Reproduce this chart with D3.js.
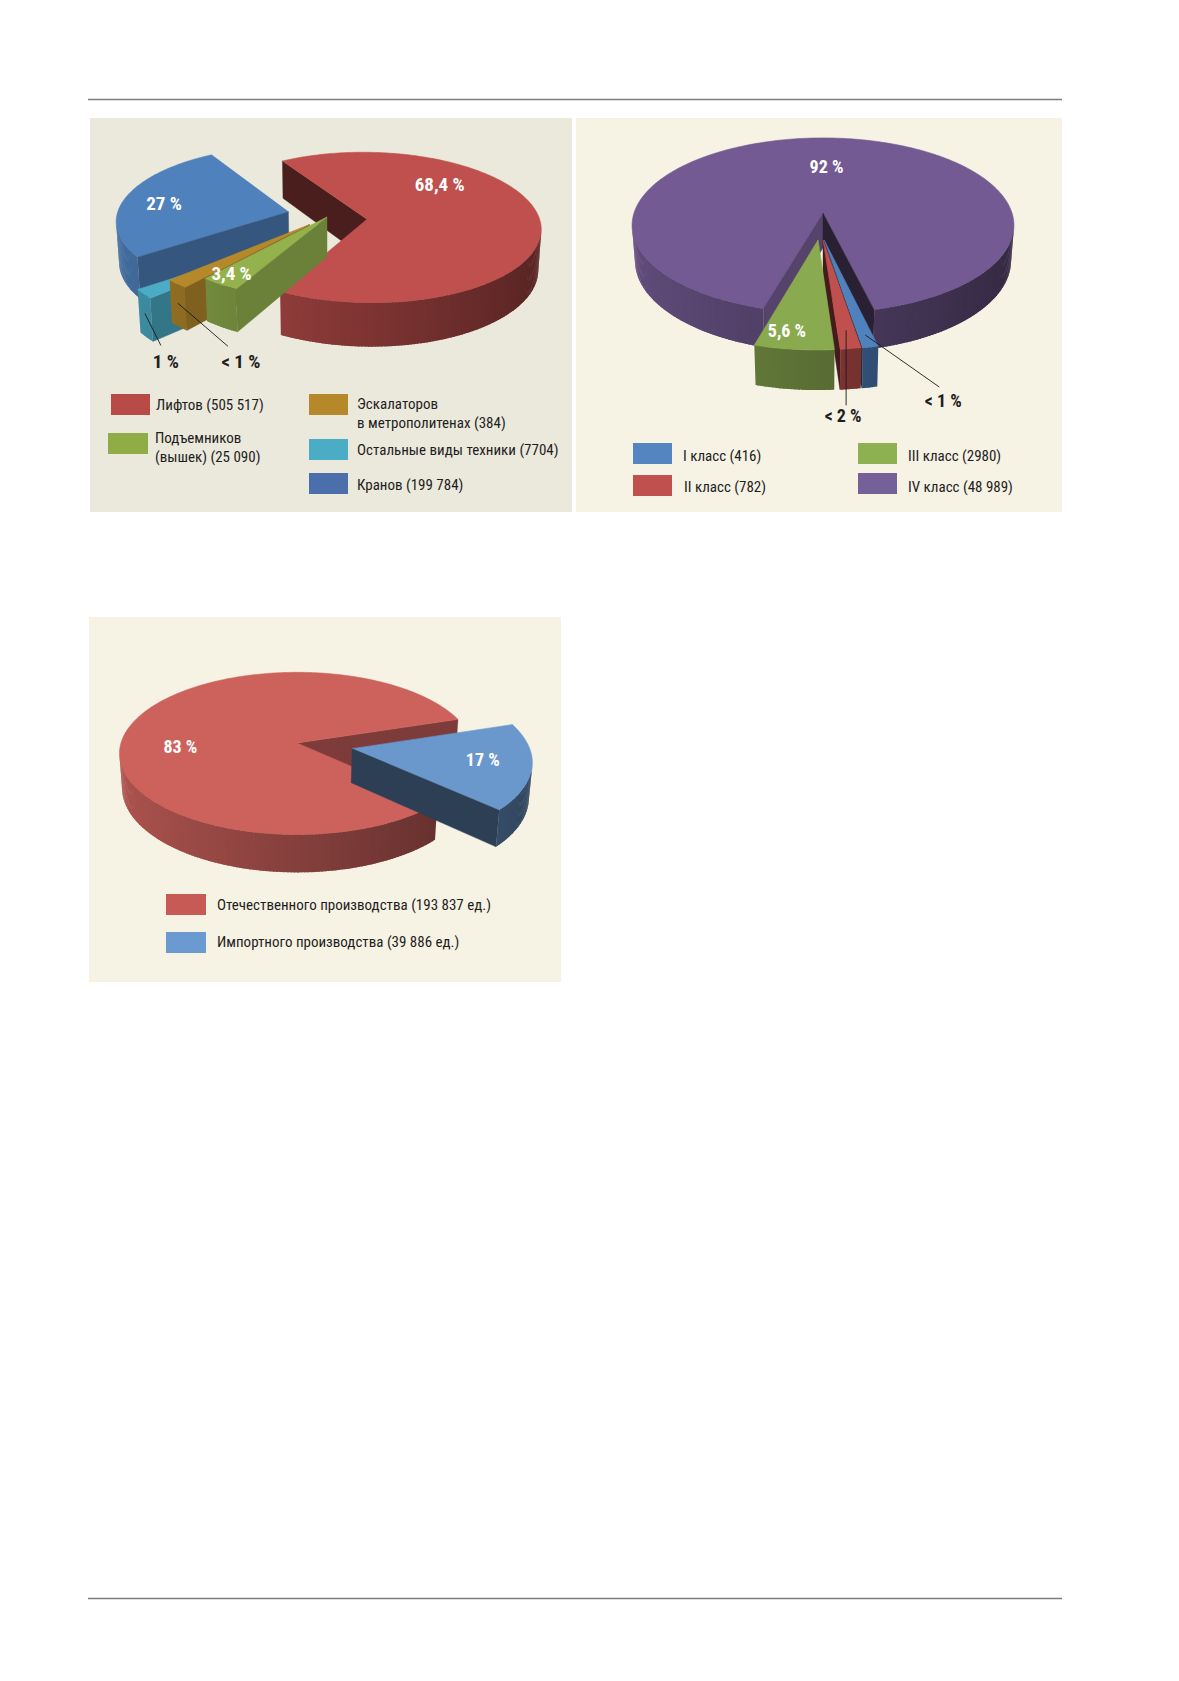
<!DOCTYPE html>
<html>
<head>
<meta charset="utf-8">
<script src="https://cdn.jsdelivr.net/npm/d3@7"></script>
<style>
  body { margin: 0; background: #fff; }
  text { font-family: "Liberation Sans Narrow", "Arial Narrow", "Roboto Condensed", "DejaVu Sans Condensed", sans-serif; }
</style>
</head>
<body>
<svg id="page" width="1179" height="1681"></svg>
<script>
// ---- chart 1: техника по видам
const EQUIP_NAMES = [['Лифтов'], ['Подъемников', '(вышек)'], ['Эскалаторов', 'в метрополитенах'], ['Остальные виды техники'], ['Кранов']];
const EQUIP_VALUES = [505517, 25090, 384, 7704, 199784];
const EQUIP_LABELS = ['68,4 %', '3,4 %', '< 1 %', '1 %', '27 %'];

// ---- chart 2: лифты по классам
const CLASS_NAMES = [['I класс'], ['II класс'], ['III класс'], ['IV класс']];
const CLASS_VALUES = [416, 782, 2980, 48989];
const CLASS_LABELS = ['< 1 %', '< 2 %', '5,6 %', '92 %'];

// ---- chart 3: производство
const MAKER_NAMES = [['Отечественного производства'], ['Импортного производства']];
const MAKER_VALUES = [193837, 39886];
const MAKER_LABELS = ['83 %', '17 %'];

// numbers: 4 digits without group, 5+ digits with a space
const grp = d3.formatLocale({decimal: ',', thousands: '\u00a0', grouping: [3], currency: ['', '']}).format(',d');
const fmt = v => v >= 10000 ? grp(v) : String(v);

const svg = d3.select('#page');

// rules on the page
[99.5, 1598.5].forEach(y => {
  svg.append('line').attr('x1', 88).attr('x2', 1062).attr('y1', y).attr('y2', y)
    .attr('stroke', '#7d7d7d').attr('stroke-width', 1.6);
});

// panels
const panels = [
  {x: 90, y: 118, w: 482, h: 394, fill: '#ebe8dc'},
  {x: 576, y: 118, w: 486, h: 394, fill: '#f6f2e4'},
  {x: 89, y: 617, w: 472, h: 365, fill: '#f6f2e4'}
];
svg.selectAll('rect.panel').data(panels).enter().append('rect').attr('class', 'panel')
  .attr('x', d => d.x).attr('y', d => d.y).attr('width', d => d.w).attr('height', d => d.h)
  .attr('fill', d => d.fill);

const rad = d => d * Math.PI / 180;

// 3d pie in perspective; world: x right, y up, z toward viewer, radius 1
function pie3d(cfg, values, colors) {
  const g = svg.append('g');
  const sn = Math.sin(cfg.tilt), cs = Math.cos(cfg.tilt);
  const cam = [0, cfg.D * sn, cfg.D * cs];
  const proj = p => {
    const up = p[1] * cs - p[2] * sn, dep = p[1] * sn + p[2] * cs;
    const w = cfg.k * cfg.D / (cfg.D - dep);
    return [cfg.ox + p[0] * w, cfg.oy - up * w];
  };
  const total = d3.sum(values);
  const arcs = d3.pie().sort(null)
    .value(v => Math.max(v, total * cfg.minShare))
    .startAngle(cfg.start).endAngle(cfg.start + 2 * Math.PI)(values);
  const shade = (c, f) => d3.interpolateRgb('#000', c)(f);

  cfg.order.forEach(i => {
    const a = arcs[i], faces = [];
    const addFace = (pts, normal, color, seam) => {
      const cen = [d3.mean(pts, p => p[0]), d3.mean(pts, p => p[1]), d3.mean(pts, p => p[2])];
      const v = [cam[0] - cen[0], cam[1] - cen[1], cam[2] - cen[2]];
      if (normal && normal[0] * v[0] + normal[1] * v[1] + normal[2] * v[2] <= 0) return;
      faces.push({pts, color, seam, dist: Math.hypot(v[0], v[1], v[2])});
    };
    const [ex, ez] = cfg.explode[i];
    const h = cfg.h, base = colors[i];
    const rim = (t, y) => [ex + Math.cos(t), y, ez + Math.sin(t)];
    const n = Math.max(2, Math.ceil((a.endAngle - a.startAngle) / rad(1)));
    const step = (a.endAngle - a.startAngle) / n;
    const ts = d3.range(n + 1).map(j => a.startAngle + step * j);
    addFace([[ex, 0, ez], ...ts.map(t => rim(t, 0))], null, base, 0.6);
    for (let j = 0; j < n; j++) {
      // segments overlap a little so no seams show
      const t0 = ts[j], t1 = Math.min(ts[j + 1] + step * 0.6, a.endAngle), tm = t0 + step / 2;
      addFace([rim(t0, 0), rim(t1, 0), rim(t1, -h), rim(t0, -h)],
        [Math.cos(tm), 0, Math.sin(tm)], shade(base, 0.45 + 0.2 * (1 - Math.cos(tm))), 0);
    }
    const a0 = a.startAngle, a1 = a.endAngle;
    const n0 = [Math.sin(a0), 0, -Math.cos(a0)], n1 = [-Math.sin(a1), 0, Math.cos(a1)];
    addFace([[ex, 0, ez], rim(a0, 0), rim(a0, -h), [ex, -h, ez]], n0, shade(base, 0.55 + 0.2 * n0[0]), 0.4);
    addFace([[ex, 0, ez], rim(a1, 0), rim(a1, -h), [ex, -h, ez]], n1, shade(base, 0.55 + 0.2 * n1[0]), 0.4);

    faces.sort((p, q) => q.dist - p.dist);
    g.append('g').selectAll('path').data(faces).enter().append('path')
      .attr('d', f => d3.line()(f.pts.map(proj)) + 'Z')
      .attr('fill', f => f.color)
      .attr('stroke', f => f.seam ? f.color : 'none').attr('stroke-width', f => f.seam)
      .attr('stroke-linejoin', 'round');
  });

  // point on a slice: angle frac along the slice, radius r, height frac (0 top, 1 bottom)
  const at = (i, frac, r, yf) => {
    const a = arcs[i], t = a.startAngle + (a.endAngle - a.startAngle) * frac;
    const [ex, ez] = cfg.explode[i];
    return proj([ex + r * Math.cos(t), -yf * cfg.h, ez + r * Math.sin(t)]);
  };
  return {arcs, proj, at, g};
}

function insideLabels(pie, cfg, labels) {
  cfg.inside.forEach(l => {
    const [ex, ez] = cfg.explode[l.i];
    const t = rad(l.ang);
    const p = pie.proj([ex + l.r * Math.cos(t), 0, ez + l.r * Math.sin(t)]);
    svg.append('text').attr('x', p[0]).attr('y', p[1]).attr('dy', '0.35em')
      .attr('text-anchor', 'middle').attr('fill', '#fff').attr('font-weight', 'bold')
      .attr('font-size', cfg.labelSize).text(labels[l.i]);
  });
}

function leaderLabels(pie, cfg, labels) {
  cfg.leaders.forEach(l => {
    const p = pie.at(l.i, 0.5, l.r, l.yf);
    svg.append('line').attr('x1', p[0]).attr('y1', p[1])
      .attr('x2', p[0] + l.to[0]).attr('y2', p[1] + l.to[1])
      .attr('stroke', '#1a1a1a').attr('stroke-width', 0.9);
    svg.append('text').attr('x', p[0] + l.lab[0]).attr('y', p[1] + l.lab[1]).attr('dy', '0.35em')
      .attr('text-anchor', 'middle').attr('fill', '#1e1e1e').attr('font-weight', 'bold')
      .attr('font-size', cfg.labelSize).text(labels[l.i]);
  });
}

function legend(items, names, values, colors, suffix) {
  items.forEach(it => {
    svg.append('rect').attr('x', it.x).attr('y', it.y).attr('width', it.w).attr('height', 21)
      .attr('fill', colors[it.i]);
    const lines = names[it.i].slice();
    lines[lines.length - 1] += ' (' + fmt(values[it.i]) + suffix + ')';
    const t = svg.append('text').attr('x', it.x + it.w + it.gap).attr('y', it.y + it.ty)
      .attr('font-size', 15).attr('fill', '#1e1e1e');
    lines.forEach((s, k) => t.append('tspan').attr('x', it.x + it.w + it.gap)
      .attr('dy', k ? 19 : 0).text(s));
  });
}

// ---------------- chart 1
const EQUIP_COLORS = ['#c0504d', '#93b24e', '#b5892a', '#4bacc6', '#4f81bd'];
const cfg1 = {
  ox: 327, oy: 217, k: 172, tilt: Math.asin(0.43), D: 8.1, h: 0.26,
  start: rad(-121), minShare: 0.02,
  explode: [[0.232, 0.03], [0, 0], [-0.1, 0.1], [-0.18, 0.3], [-0.226, -0.07]],
  order: [4, 3, 2, 0, 1],
  labelSize: 19,
  inside: [{i: 0, ang: -47, r: 0.67}, {i: 1, ang: 126, r: 0.87}, {i: 4, ang: 189, r: 0.75}],
  leaders: [
    {i: 3, r: 1, yf: 0.45, to: [16, 32], lab: [21, 48]},
    {i: 2, r: 1, yf: 0.45, to: [50, 43], lab: [63, 58]}
  ]
};
const pie1 = pie3d(cfg1, EQUIP_VALUES, EQUIP_COLORS);
insideLabels(pie1, cfg1, EQUIP_LABELS);
leaderLabels(pie1, cfg1, EQUIP_LABELS);
legend([
  {i: 0, x: 111, y: 394, w: 39, gap: 6, ty: 16},
  {i: 1, x: 108, y: 433, w: 40, gap: 7, ty: 10},
  {i: 2, x: 309, y: 394, w: 39, gap: 9, ty: 15},
  {i: 3, x: 309, y: 439, w: 39, gap: 9, ty: 16},
  {i: 4, x: 309, y: 473, w: 39, gap: 9, ty: 17}
], EQUIP_NAMES, EQUIP_VALUES, ['#b84a47', '#8fac47', '#b5892a', '#4bacc6', '#4a6fab'], '');

// ---------------- chart 2
const CLASS_COLORS = ['#4f81bd', '#c0504d', '#8aaa50', '#735a92'];
const cfg2 = {
  ox: 823, oy: 213, k: 189, tilt: rad(27), D: 6.24, h: 0.21,
  start: rad(76.5), minShare: 0.011,
  explode: [[0.006, 0.3], [0, 0.3], [-0.025, 0.3], [0, 0]],
  order: [3, 0, 1, 2],
  labelSize: 18,
  inside: [{i: 3, ang: -88, r: 0.58}, {i: 2, ang: 99, r: 0.86}],
  leaders: [
    {i: 1, r: 0.85, yf: 0, to: [0, 75], lab: [-3, 85]},
    {i: 0, r: 0.9, yf: 0, to: [74, 52], lab: [78, 66]}
  ]
};
const pie2 = pie3d(cfg2, CLASS_VALUES, CLASS_COLORS);
insideLabels(pie2, cfg2, CLASS_LABELS);
leaderLabels(pie2, cfg2, CLASS_LABELS);
legend([
  {i: 0, x: 633, y: 443, w: 39, gap: 11, ty: 18},
  {i: 1, x: 633, y: 475, w: 39, gap: 12, ty: 17},
  {i: 2, x: 858, y: 443, w: 39, gap: 11, ty: 18},
  {i: 3, x: 858, y: 473, w: 39, gap: 11, ty: 19}
], CLASS_NAMES, CLASS_VALUES, ['#5585c0', '#c0504d', '#8db050', '#76609a'], '');

// ---------------- chart 3
const MAKER_COLORS = ['#cd625d', '#6a98cc'];
const cfg3 = {
  ox: 297, oy: 743, k: 176, tilt: rad(27), D: 6.83, h: 0.22,
  start: rad(43.5), minShare: 0,
  explode: [[0, 0], [0.31, 0.07]],
  order: [0, 1],
  labelSize: 18,
  inside: [{i: 0, ang: 176, r: 0.66}, {i: 1, ang: 11, r: 0.73}],
  leaders: []
};
const pie3 = pie3d(cfg3, MAKER_VALUES, MAKER_COLORS);
insideLabels(pie3, cfg3, MAKER_LABELS);
legend([
  {i: 0, x: 166, y: 894, w: 40, gap: 11, ty: 16},
  {i: 1, x: 166, y: 932, w: 40, gap: 11, ty: 15}
], MAKER_NAMES, MAKER_VALUES, ['#c85a55', '#6a9ad0'], ' ед.');
</script>
</body>
</html>
